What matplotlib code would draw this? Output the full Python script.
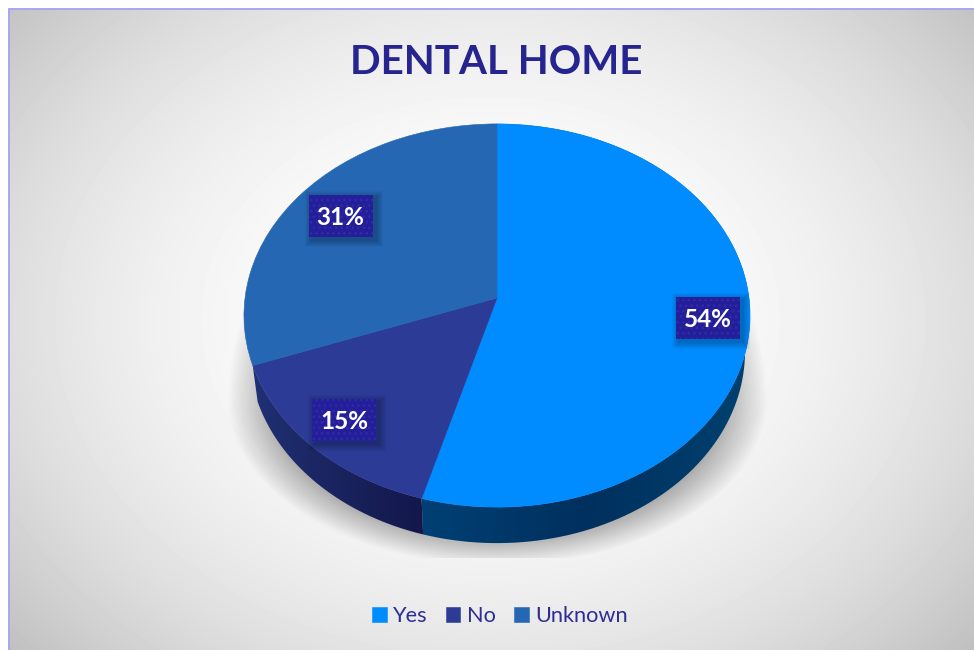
import matplotlib
matplotlib.use("Agg")
import matplotlib.pyplot as plt
import numpy as np
from matplotlib.patches import PathPatch, Rectangle
from matplotlib.path import Path as MplPath
from matplotlib.transforms import Transform

plt.rcParams["font.family"] = ["Lato", "DejaVu Sans"]
plt.rcParams["hatch.linewidth"] = 1.0

categories = ["Yes", "No", "Unknown"]
shares = [54.4, 15.0, 30.6]  # slices as measured, labels round these
top_colors = ["#008cff", "#2c3b96", "#2667b4"]
# side wall colours, left end / right end (Unknown has no visible wall)
wall_colors = {"Yes": ["#004074", "#00305e", "#00416f"], "No": ["#203073", "#13174a"]}

W, H = 974, 650
CX, APEX_Y = 497.0, 298.0
RX, RY, K = 252.0, 190.0, 0.0914
DEPTH = 36.0
BOTTOM_SCALE = 0.98

# label boxes, pixel centres
label_xy = [(707.5, 318), (344, 420), (340.5, 216)]


class Perspective(Transform):
    """Unit pie to pixels, tilted so the apex sits above the ellipse centre."""
    input_dims = 2
    output_dims = 2
    is_separable = False
    has_inverse = False

    def transform_non_affine(self, values):
        values = np.asarray(values, dtype=float)
        u, v = values[:, 0], values[:, 1]
        d = 1 + K * v
        return np.column_stack([CX + RX * u / d, APEX_Y - RY * v / d])


def hex_rgb(c):
    return np.array(matplotlib.colors.to_rgb(c))


fig = plt.figure(figsize=(W / 100, H / 100), dpi=100)
ax = fig.add_axes([0, 0, 1, 1])

wedges, _ = ax.pie(shares, colors=top_colors, startangle=90, counterclock=False,
                   radius=1, center=(0, 0))
persp = Perspective()
for w in wedges:
    w.set_transform(persp + ax.transData)
    w.set_zorder(5)
    w.set_edgecolor(w.get_facecolor())
    w.set_linewidth(0.4)

# background gradient
yy, xx = np.mgrid[0:H, 0:W]
r = np.hypot((xx - 490) / 620, (yy - 320) / 480)
bg = np.clip(1 - 0.23 * np.clip(r, 0, 1.2) ** 2.2, 0, 1)
bg[:, :8] = 1
bg[:8, :] = 1
ax.imshow(bg, cmap="gray", vmin=0, vmax=1, extent=(0, W, H, 0), zorder=0,
          interpolation="bilinear")
ax.plot([8.5, 8.5, W], [H, 8.5, 8.5], color="#a8a8f0", lw=1.4, zorder=1)

# soft shadow behind the disc
dy = yy - 400.0
ry_map = np.where(dy < 0, 265.0, 165.0)
rs = np.hypot((xx - CX) / 270.0, dy / ry_map)
alpha = np.clip((1 - rs) / 0.16, 0, 1) * 0.29
alpha[yy > 557] = 0
alpha[yy < 300] = 0
rgba = np.zeros((H, W, 4))
rgba[..., 3] = alpha
ax.imshow(rgba, extent=(0, W, H, 0), zorder=2, interpolation="bilinear")

# side walls, from the same wedge angles
for w, name in zip(wedges, categories):
    if name not in wall_colors:
        continue
    t = np.radians(np.linspace(w.theta1, w.theta2, 120))
    top = persp.transform(np.column_stack([np.cos(t), np.sin(t)]))
    low = top.copy()
    low[:, 0] = CX + (low[:, 0] - CX) * BOTTOM_SCALE
    low[:, 1] += DEPTH
    poly = MplPath(np.vstack([top, low[::-1], top[:1]]), closed=True)
    clip = PathPatch(poly, transform=ax.transData, fc="none", ec="none")
    ax.add_patch(clip)
    stops = np.array([hex_rgb(c) for c in wall_colors[name]])
    x0, x1 = poly.vertices[:, 0].min(), poly.vertices[:, 0].max()
    pos = np.linspace(0, 1, len(stops))
    ramp = np.linspace(0, 1, 256)
    grad = np.stack([np.interp(ramp, pos, stops[:, i]) for i in range(3)], axis=-1)[None, :, :]
    im = ax.imshow(grad, extent=(x0, x1, 600, 100), zorder=3, interpolation="bilinear")
    im.set_clip_path(clip)

# data labels
BOX_W, BOX_H = 64, 42
for (lx, ly), val in zip(label_xy, shares):
    for i in range(7, 0, -1):
        ax.add_patch(Rectangle((lx - BOX_W / 2 + 3 - i, ly - BOX_H / 2 + 3 - i),
                               BOX_W + 2 * i, BOX_H + 2 * i, fc="black",
                               alpha=0.035, lw=0, zorder=6))
    ax.add_patch(Rectangle((lx - BOX_W / 2, ly - BOX_H / 2), BOX_W, BOX_H, fc="#241f99",
                           ec="#2f2bab", hatch="...", lw=0, zorder=7))
    ax.text(lx, ly + 1.5, f"{val:.0f}%", color="white", fontsize=17.5, fontweight="bold",
            ha="center", va="center", zorder=8)

ax.text(496, 63, "DENTAL HOME", color="#26248f", fontsize=29, fontweight="bold",
        ha="center", va="center", zorder=8)

ax.set_aspect("auto")
ax.set_xlim(0, W)
ax.set_ylim(H, 0)
ax.axis("off")

ax.legend(wedges, categories, loc="center", bbox_to_anchor=(500 / W, 1 - 616 / H),
          ncol=3, frameon=False, fontsize=15.7, handlelength=0.65, handleheight=0.65,
          handletextpad=0.3, columnspacing=0.85, labelcolor="#2f2c96")

fig.savefig("out.png", dpi=100)
plt.close(fig)
